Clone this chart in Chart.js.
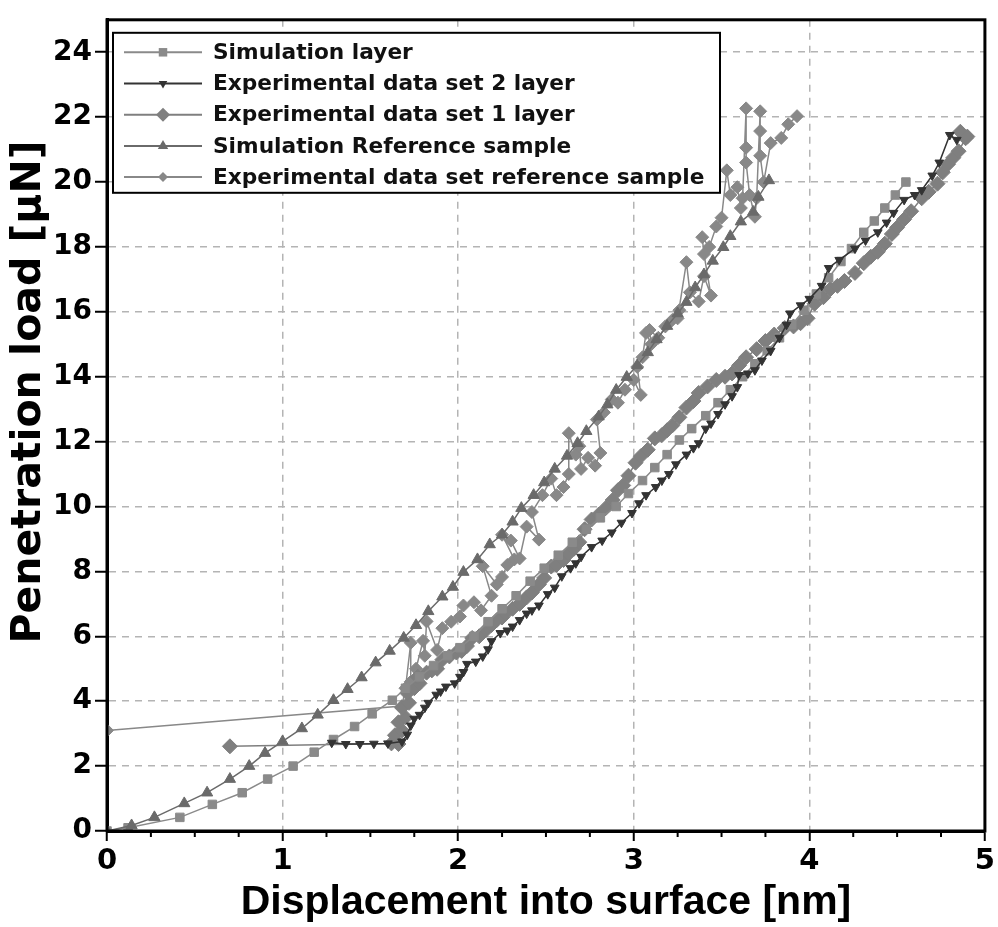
<!DOCTYPE html>
<html>
<head>
<meta charset="utf-8">
<script src="https://cdn.jsdelivr.net/npm/chart.js@4.4.0/dist/chart.umd.min.js"></script>
<style>
  html, body { margin: 0; padding: 0; background: #fff; }
  canvas { display: block; }
</style>
</head>
<body>
<canvas id="myChart" width="998" height="927"></canvas>
<script>
// Werte: [Verschiebung nm, Last uN]
const simLayer = [[0,0],[0.12,0.10],[0.415,0.42],[0.60,0.82],[0.77,1.18],[0.915,1.60],[1.06,2.00],[1.18,2.43],[1.29,2.82],[1.41,3.22],[1.51,3.61],[1.625,4.03],[1.70,4.40],[1.78,4.75],[1.86,5.10],[1.94,5.40],[2.01,5.65],[2.09,6.00],[2.17,6.45],[2.25,6.85],[2.33,7.25],[2.41,7.70],[2.49,8.10],[2.57,8.50],[2.65,8.90],[2.73,9.30],[2.81,9.65],[2.90,10.00],[2.97,10.40],[3.05,10.80],[3.12,11.20],[3.19,11.60],[3.26,12.05],[3.33,12.40],[3.41,12.80],[3.48,13.20],[3.55,13.60],[3.62,14.00],[3.69,14.40],[3.76,14.80],[3.83,15.20],[3.90,15.60],[3.97,16.05],[4.04,16.55],[4.11,17.05],[4.18,17.55],[4.24,17.95],[4.31,18.45],[4.37,18.80],[4.43,19.20],[4.49,19.60],[4.55,20.00]];

const expLayer2 = [[1.28,2.72],[1.36,2.68],[1.44,2.68],[1.52,2.69],[1.60,2.70],[1.68,2.76],[1.71,2.97],[1.73,3.25],[1.75,3.46],[1.78,3.58],[1.81,3.80],[1.83,3.95],[1.875,4.20],[1.90,4.30],[1.93,4.45],[1.98,4.55],[2.01,4.75],[2.03,4.90],[2.05,5.15],[2.10,5.22],[2.14,5.38],[2.17,5.60],[2.19,5.85],[2.24,6.10],[2.28,6.18],[2.31,6.30],[2.35,6.50],[2.39,6.70],[2.42,6.80],[2.46,6.95],[2.51,7.30],[2.55,7.50],[2.59,7.85],[2.64,8.10],[2.67,8.25],[2.70,8.45],[2.76,8.75],[2.82,8.95],[2.875,9.20],[2.93,9.50],[2.99,9.80],[3.03,10.10],[3.07,10.35],[3.125,10.60],[3.16,10.80],[3.20,11.00],[3.24,11.30],[3.30,11.60],[3.34,11.80],[3.37,11.95],[3.41,12.40],[3.44,12.56],[3.48,12.85],[3.52,13.15],[3.56,13.40],[3.59,13.68],[3.60,14.05],[3.65,14.10],[3.69,14.20],[3.73,14.50],[3.78,14.80],[3.83,15.20],[3.87,15.60],[3.89,15.95],[3.95,16.20],[4.00,16.40],[4.07,16.80],[4.11,17.35],[4.17,17.60],[4.26,17.95],[4.32,18.20],[4.39,18.45],[4.44,18.75],[4.48,19.05],[4.54,19.45],[4.60,19.60],[4.64,19.75],[4.70,20.20],[4.74,20.60],[4.80,21.45],[4.84,21.30]];

const expLayer1 = [[0.70,2.61],[1.62,2.70],[1.66,2.68],[1.64,2.95],[1.68,3.10],[1.66,3.35],[1.70,3.50],[1.68,3.80],[1.72,3.95],[1.71,4.25],[1.75,4.40],[1.78,4.55],[1.77,4.75],[1.82,4.88],[1.85,4.95],[1.88,5.00],[1.91,5.28],[1.95,5.38],[1.99,5.50],[2.02,5.55],[2.05,5.70],[2.08,5.95],[2.12,6.00],[2.16,6.20],[2.19,6.35],[2.22,6.50],[2.25,6.58],[2.27,6.70],[2.31,6.85],[2.35,7.00],[2.39,7.20],[2.42,7.35],[2.46,7.60],[2.49,7.80],[2.53,8.15],[2.56,8.20],[2.60,8.35],[2.63,8.55],[2.66,8.70],[2.69,8.90],[2.72,9.30],[2.76,9.60],[2.80,9.75],[2.84,9.95],[2.88,10.20],[2.91,10.50],[2.94,10.65],[2.97,10.95],[3.01,11.35],[3.04,11.55],[3.08,11.75],[3.12,12.10],[3.16,12.20],[3.19,12.35],[3.22,12.50],[3.26,12.75],[3.30,13.05],[3.34,13.25],[3.37,13.50],[3.42,13.70],[3.47,13.90],[3.52,14.00],[3.56,14.10],[3.60,14.35],[3.64,14.60],[3.70,14.85],[3.75,15.10],[3.80,15.30],[3.86,15.50],[3.91,15.55],[3.95,15.65],[3.99,15.80],[4.03,16.25],[4.08,16.45],[4.12,16.70],[4.16,16.80],[4.20,16.95],[4.26,17.20],[4.31,17.50],[4.35,17.70],[4.39,17.85],[4.43,18.10],[4.47,18.40],[4.50,18.60],[4.54,18.85],[4.58,19.10],[4.64,19.50],[4.68,19.70],[4.73,19.95],[4.76,20.30],[4.79,20.55],[4.82,20.75],[4.85,20.95],[4.89,21.35],[4.86,21.55],[4.90,21.40]];

const simRef = [[0,0],[0.14,0.17],[0.27,0.42],[0.44,0.85],[0.57,1.18],[0.70,1.60],[0.81,2.00],[0.90,2.40],[1.00,2.76],[1.11,3.16],[1.20,3.58],[1.29,4.03],[1.37,4.37],[1.45,4.73],[1.53,5.19],[1.61,5.55],[1.69,5.95],[1.76,6.34],[1.83,6.77],[1.91,7.22],[1.97,7.52],[2.03,7.98],[2.11,8.37],[2.18,8.83],[2.25,9.13],[2.31,9.53],[2.36,9.95],[2.43,10.35],[2.49,10.74],[2.55,11.16],[2.62,11.56],[2.68,11.95],[2.73,12.32],[2.80,12.77],[2.85,13.14],[2.90,13.59],[2.96,13.99],[3.02,14.35],[3.08,14.75],[3.13,15.15],[3.19,15.56],[3.25,15.95],[3.30,16.30],[3.35,16.75],[3.40,17.15],[3.45,17.57],[3.51,17.99],[3.55,18.33],[3.61,18.78],[3.68,19.08],[3.71,19.54],[3.77,20.05]];

const expRef = [[0,3.10],[1.68,3.85],[1.70,4.40],[1.73,5.80],[1.73,4.60],[1.76,5.00],[1.80,5.86],[1.81,5.40],[1.82,6.46],[1.88,5.58],[1.91,6.25],[1.96,6.45],[2.01,6.61],[2.03,6.95],[2.09,7.05],[2.13,6.80],[2.19,7.25],[2.14,8.16],[2.22,7.60],[2.25,7.83],[2.28,8.20],[2.32,8.37],[2.25,9.13],[2.30,8.95],[2.35,8.40],[2.39,9.38],[2.46,8.98],[2.42,9.83],[2.48,10.35],[2.53,10.86],[2.56,10.35],[2.60,10.60],[2.63,11.00],[2.63,12.26],[2.67,11.60],[2.69,11.86],[2.70,11.16],[2.74,11.50],[2.78,11.26],[2.81,11.65],[2.79,12.68],[2.83,12.90],[2.875,13.30],[2.91,13.20],[2.95,13.60],[3.00,13.90],[3.04,13.44],[3.02,14.30],[3.05,14.60],[3.07,15.35],[3.10,15.00],[3.09,15.44],[3.14,15.20],[3.18,15.55],[3.22,15.75],[3.26,16.05],[3.25,15.80],[3.30,17.53],[3.32,16.60],[3.37,16.32],[3.40,17.10],[3.44,16.50],[3.40,17.78],[3.39,18.30],[3.43,18.00],[3.47,18.63],[3.50,18.90],[3.53,20.36],[3.55,19.60],[3.59,19.84],[3.61,19.20],[3.62,19.50],[3.64,22.27],[3.64,21.06],[3.64,20.60],[3.66,19.60],[3.69,18.93],[3.70,19.50],[3.72,22.18],[3.72,21.57],[3.72,20.81],[3.74,20.00],[3.78,21.20],[3.84,21.36],[3.88,21.78],[3.93,22.03]];

const seriesLabels = ['Simulation layer', 'Experimental data set 2 layer', 'Experimental data set 1 layer', 'Simulation Reference sample', 'Experimental data set reference sample'];

// Achsen
const xTickValues = [0,0.25,0.5,0.75,1,1.25,1.5,1.75,2,2.25,2.5,2.75,3,3.25,3.5,3.75,4,4.25,4.5,4.75,5];
const xTickLabels = ['0','1','2','3','4','5'];
const yTickValues = [0,2,4,6,8,10,12,14,16,18,20,22,24];

const toPoints = arr => arr.map(p => ({x: p[0], y: p[1]}));
const isMajorX = v => Math.abs(v - Math.round(v)) < 1e-6;

// Marker fuer die eigene Legende
function drawMarker(ctx, style, r, rot, x, y) {
    ctx.beginPath();
    if (style === 'rect') {
        const s = r * Math.SQRT1_2;
        ctx.rect(x - s, y - s, 2 * s, 2 * s);
    } else if (style === 'rectRot') {
        ctx.moveTo(x, y - r); ctx.lineTo(x + r, y); ctx.lineTo(x, y + r); ctx.lineTo(x - r, y);
        ctx.closePath();
    } else {
        const d = rot ? -1 : 1;
        ctx.moveTo(x, y - d * r);
        ctx.lineTo(x + r * 0.866, y + d * r * 0.5);
        ctx.lineTo(x - r * 0.866, y + d * r * 0.5);
        ctx.closePath();
    }
    ctx.fill();
}

const framePlugin = {
    id: 'frame',
    afterDraw(chart) {
        const {ctx, chartArea: a, scales} = chart;
        ctx.save();
        // kleine Ticks auf der x-Achse
        ctx.strokeStyle = '#000';
        ctx.lineWidth = 2;
        xTickValues.filter(v => !isMajorX(v)).forEach(v => {
            const px = scales.x.getPixelForValue(v);
            ctx.beginPath(); ctx.moveTo(px, a.bottom); ctx.lineTo(px, a.bottom + 6); ctx.stroke();
        });
        // Rahmen
        ctx.lineWidth = 3;
        ctx.strokeRect(a.left, a.top, a.right - a.left, a.bottom - a.top);

        // y-Titel
        ctx.translate(29, 392);
        ctx.rotate(-Math.PI / 2);
        ctx.fillStyle = '#000';
        ctx.font = 'bold 41px "DejaVu Sans"';
        ctx.textAlign = 'center';
        ctx.textBaseline = 'middle';
        ctx.fillText('Penetration load [\u03bcN]', 0, 0);
        ctx.restore();

        // Legende im Plotbereich
        const bx = a.left + 6, by = a.top + 13, bw = 607, bh = 160;
        ctx.save();
        ctx.fillStyle = '#fff';
        ctx.fillRect(bx, by, bw, bh);
        ctx.strokeStyle = '#000';
        ctx.lineWidth = 2;
        ctx.strokeRect(bx, by, bw, bh);
        ctx.font = 'bold 21.7px "DejaVu Sans"';
        ctx.textBaseline = 'middle';
        ctx.textAlign = 'left';
        chart.data.datasets.forEach((ds, i) => {
            const cy = by + 19.5 + i * 31.2;
            ctx.strokeStyle = ds.borderColor;
            ctx.lineWidth = 2;
            ctx.beginPath(); ctx.moveTo(bx + 11, cy); ctx.lineTo(bx + 89, cy); ctx.stroke();
            ctx.fillStyle = ds.pointBackgroundColor;
            drawMarker(ctx, ds.pointStyle, ds.legendRadius, ds.pointRotation, bx + 50, cy);
            ctx.fillStyle = '#111';
            ctx.fillText(ds.label, bx + 100, cy + 1);
        });
        ctx.restore();
    }
};

const ctx = document.getElementById('myChart').getContext('2d');
const myChart = new Chart(ctx, {
    type: 'scatter',
    data: {
        datasets: [{
            label: seriesLabels[0],
            data: toPoints(simLayer),
            showLine: true,
            borderColor: '#8a8a8a',
            borderWidth: 1.5,
            pointStyle: 'rect',
            pointRadius: 6,
            pointBackgroundColor: '#8a8a8a',
            pointBorderColor: '#8a8a8a',
            pointBorderWidth: 1,
            legendRadius: 6,
            order: 3
        }, {
            label: seriesLabels[1],
            data: toPoints(expLayer2),
            showLine: true,
            borderColor: '#333333',
            borderWidth: 1.5,
            pointStyle: 'triangle',
            pointRotation: 180,
            pointRadius: 5,
            pointBackgroundColor: '#333333',
            pointBorderColor: '#333333',
            pointBorderWidth: 1,
            legendRadius: 5,
            order: 2
        }, {
            label: seriesLabels[2],
            data: toPoints(expLayer1),
            showLine: true,
            borderColor: '#7f7f7f',
            borderWidth: 1.5,
            pointStyle: 'rectRot',
            pointRadius: 7.5,
            pointBackgroundColor: '#7f7f7f',
            pointBorderColor: '#7f7f7f',
            pointBorderWidth: 1,
            legendRadius: 7,
            order: 4
        }, {
            label: seriesLabels[3],
            data: toPoints(simRef),
            showLine: true,
            borderColor: '#6a6a6a',
            borderWidth: 1.5,
            pointStyle: 'triangle',
            pointRadius: 6.5,
            pointBackgroundColor: '#6a6a6a',
            pointBorderColor: '#6a6a6a',
            pointBorderWidth: 1,
            legendRadius: 6,
            order: 1
        }, {
            label: seriesLabels[4],
            data: toPoints(expRef),
            showLine: true,
            borderColor: '#888888',
            borderWidth: 1.5,
            pointStyle: 'rectRot',
            pointRadius: 6.5,
            pointBackgroundColor: '#888888',
            pointBorderColor: '#888888',
            pointBorderWidth: 1,
            legendRadius: 5,
            order: 5
        }]
    },
    options: {
        responsive: false,
        animation: false,
        devicePixelRatio: 1,
        layout: { padding: { top: 6, right: 10, left: 0, bottom: 0 } },
        plugins: {
            legend: { display: false },
            tooltip: { enabled: false }
        },
        scales: {
            x: {
                type: 'linear',
                min: 0,
                max: 5,
                afterBuildTicks: scale => { scale.ticks = xTickValues.map(v => ({ value: v })); },
                afterFit: scale => { scale.height = 96; },
                ticks: {
                    autoSkip: false,
                    maxRotation: 0,
                    padding: 3,
                    color: '#000',
                    font: { family: 'DejaVu Sans', weight: 'bold', size: 29 },
                    callback: v => isMajorX(v) ? xTickLabels[Math.round(v)] : ''
                },
                grid: {
                    color: c => (c.tick && isMajorX(c.tick.value)) ? '#b4b4b4' : 'transparent',
                    lineWidth: 1.5,
                    tickLength: 10,
                    tickWidth: 2,
                    tickColor: c => (c.tick && isMajorX(c.tick.value)) ? '#000' : 'transparent'
                },
                border: { color: '#000', width: 3, dash: [7, 6] },
                title: {
                    display: true,
                    text: 'Displacement into surface [nm]',
                    color: '#000',
                    font: { family: 'Liberation Sans', weight: 'bold', size: 41 },
                    padding: { top: 0, bottom: 0 }
                }
            },
            y: {
                type: 'linear',
                min: 0,
                max: 25,
                afterBuildTicks: scale => { scale.ticks = yTickValues.map(v => ({ value: v })); },
                afterFit: scale => { scale.width = 107; },
                ticks: {
                    padding: 3,
                    color: '#000',
                    font: { family: 'DejaVu Sans', weight: 'bold', size: 28 }
                },
                grid: {
                    color: '#b4b4b4',
                    lineWidth: 1.5,
                    tickLength: 12,
                    tickWidth: 2,
                    tickColor: '#000'
                },
                border: { color: '#000', width: 3, dash: [7, 6] }
            }
        }
    },
    plugins: [framePlugin]
});
</script>
</body>
</html>
